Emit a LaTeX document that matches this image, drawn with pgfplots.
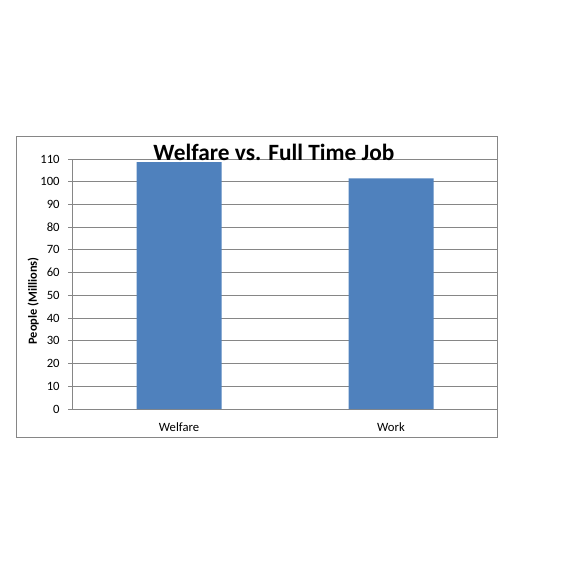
\documentclass[border=0pt]{standalone}
\usepackage{fontspec}
\setmainfont{Carlito}
\usepackage{pgfplots}
\pgfplotsset{compat=1.18}
\definecolor{barblue}{HTML}{4F81BD}
\definecolor{gridgray}{HTML}{868686}
\begin{document}
\begin{tikzpicture}
% 1 px of the reference = 0.75pt
\useasboundingbox (-73*0.75pt,-153*0.75pt) rectangle (490*0.75pt,409*0.75pt);
\draw[gridgray, line width=0.75pt] (-56*0.75pt,-28*0.75pt) rectangle (424*0.75pt,273*0.75pt);
\begin{axis}[
    at={(0,0)}, anchor=south west,
    scale only axis,
    width=318pt, height=187.5pt,
    ybar,
    bar width=63.75pt,
    xmin=-0.5, xmax=1.5,
    ymin=0, ymax=110,
    ytick distance=10,
    xtick={0,1},
    xticklabels={Welfare,Work},
    axis x line*=bottom,
    axis y line*=left,
    axis line style={gridgray, line width=0.75pt, -},
    ymajorgrids,
    grid style={gridgray, line width=0.75pt},
    major x tick style={draw=none},
    ytick style={gridgray, line width=0.75pt},
    tick align=outside,
    major tick length=3.5pt,
    ticklabel style={font=\fontsize{9.5}{11}\selectfont, text=black},
    yticklabel style={xshift=-3pt},
    xticklabel style={yshift=-3pt},
    /pgf/number format/assume math mode=true,
    ylabel={\textbf{People (Millions)}},
    ylabel style={at={(axis description cs:-0.094,0.432)}, anchor=center, rotate=0, font=\fontsize{9.3}{11}\selectfont},
    clip=false,
]
\addplot[fill=barblue, draw=none] coordinates {(0,108.6) (1,101.5)};
\node[anchor=base, font=\fontsize{17.5}{20}\bfseries, inner sep=0pt] at (axis description cs:0.474,0.996) {Welfare vs. Full Time Job};
\end{axis}
\end{tikzpicture}
\end{document}
